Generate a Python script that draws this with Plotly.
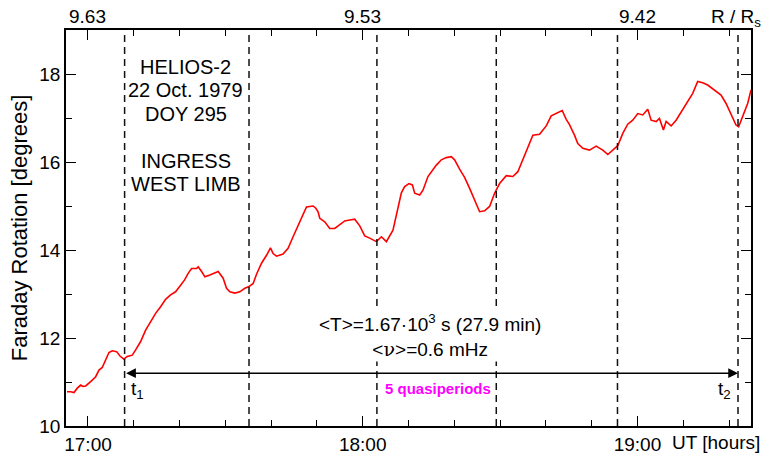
import plotly.graph_objects as go

# ---- data (minutes after 17:00 UT, Faraday rotation in degrees) ----
minutes = [-4.58, -3.77, -3.05, -2.33, -1.59, -1.09, -0.50, 0.0, 0.59, 1.68, 2.40, 3.12, 3.86, 4.58,
           5.30, 6.26, 6.98, 7.85, 8.57, 9.67, 10.41, 11.50, 12.59, 13.68, 14.77, 15.86, 16.95,
           18.04, 19.13, 20.23, 21.10, 21.88, 22.63, 23.72, 24.07, 24.81, 25.53, 26.62, 27.71,
           28.43, 29.52, 30.26, 30.98, 32.07, 33.16, 34.25, 35.19, 36.07, 36.81, 37.90, 38.99,
           39.86, 40.43, 41.17, 42.61, 43.70, 44.79, 46.25, 46.97, 47.72, 49.16, 49.75, 50.25,
           50.62, 51.71, 52.80, 53.89, 54.98, 56.07, 57.16, 58.25, 59.35, 60.44, 61.53, 62.99,
           64.08, 65.17, 66.61, 67.70, 68.44, 69.16, 70.10, 70.84, 71.35, 72.44, 73.16, 74.25,
           74.99, 76.08, 77.17, 78.26, 79.35, 80.07, 81.16, 82.25, 83.35, 84.44, 85.53, 86.62,
           87.71, 88.80, 89.89, 91.35, 92.79, 93.88, 94.98, 96.07, 97.16, 98.62, 100.08, 101.17,
           102.26, 103.57, 104.44, 105.16, 106.25, 106.97, 108.07, 109.53, 110.99, 112.43,
           113.53, 114.62, 115.70, 116.80, 117.88, 118.97, 120.07, 121.16, 122.25, 122.99,
           124.08, 124.80, 125.67, 126.26, 127.35, 128.44, 129.53, 130.62, 132.07, 133.16,
           134.25, 135.34, 136.80, 138.26, 139.35, 140.44, 141.53, 142.10, 142.97, 144.07, 144.81]
rotation = [10.78, 10.78, 10.76, 10.86, 10.93, 10.90, 10.91, 10.95, 11.01, 11.12, 11.27, 11.33, 11.50, 11.67,
            11.71, 11.69, 11.59, 11.52, 11.58, 11.61, 11.73, 11.92, 12.18, 12.37, 12.56, 12.71, 12.88,
            12.98, 13.05, 13.20, 13.32, 13.47, 13.58, 13.58, 13.62, 13.51, 13.39, 13.43, 13.47,
            13.51, 13.36, 13.13, 13.05, 13.02, 13.05, 13.13, 13.17, 13.24, 13.45, 13.70, 13.88,
            14.05, 13.92, 13.86, 13.91, 14.04, 14.30, 14.62, 14.80, 14.98, 15.00, 14.95, 14.87,
            14.72, 14.64, 14.49, 14.49, 14.57, 14.66, 14.68, 14.70, 14.55, 14.32, 14.27, 14.19,
            14.30, 14.19, 14.45, 14.95, 15.30, 15.44, 15.51, 15.48, 15.29, 15.25, 15.36, 15.67,
            15.78, 15.93, 16.05, 16.10, 16.12, 16.05, 15.84, 15.65, 15.40, 15.14, 14.87, 14.89,
            14.99, 15.29, 15.51, 15.69, 15.67, 15.78, 16.05, 16.33, 16.61, 16.63, 16.82, 17.05,
            17.10, 17.17, 16.97, 16.85, 16.61, 16.42, 16.31, 16.27, 16.36, 16.27,
            16.17, 16.27, 16.37, 16.65, 16.86, 16.95, 17.10, 17.07, 17.20, 16.95,
            16.92, 16.99, 16.73, 16.92, 16.82, 16.95, 17.14, 17.30, 17.56, 17.83,
            17.80, 17.75, 17.64, 17.52, 17.33, 17.10, 16.84, 16.80, 17.03, 17.33, 17.64]

# quasiperiod boundaries (minutes after 17:00)
period_marks = [8.0, 35.17, 63.1, 89.17, 115.64, 141.96]

# tick labels
bottom_tick_vals = [0, 60, 120]
bottom_tick_text = ["17:00", "18:00", "19:00"]
top_tick_text = ["9.63", "9.53", "9.42"]
y_tick_vals = [10, 12, 14, 16, 18]

info_lines = ["HELIOS-2", "22 Oct. 1979", "DOY 295", "", "INGRESS", "WEST LIMB"]

FONT = "Liberation Sans, Arial, sans-serif"

fig = go.Figure()
fig.add_trace(go.Scatter(x=minutes, y=rotation, mode="lines",
                         line=dict(color="#ff0000", width=1.6), showlegend=False,
                         hoverinfo="skip"))

for m in period_marks:
    fig.add_shape(type="line", x0=m, x1=m, y0=0, y1=1, xref="x", yref="paper",
                  line=dict(color="#111111", width=1.5, dash="7px,5px"))

axis_common = dict(showline=True, linecolor="black", linewidth=1.5, mirror="allticks",
                   ticks="inside", tickcolor="black", tickwidth=1.3, ticklen=10,
                   showgrid=False, zeroline=False, automargin=False,
                   tickfont=dict(family=FONT, size=19, color="black"))

fig.update_xaxes(range=[-4.8, 144.8], tickmode="array", tickvals=bottom_tick_vals,
                 ticktext=bottom_tick_text,
                 minor=dict(dtick=10, tick0=0, ticks="inside", ticklen=6, tickcolor="black",
                            tickwidth=1.3, showgrid=False),
                 **axis_common)
fig.update_yaxes(range=[10, 19], tickmode="array", tickvals=y_tick_vals,
                 minor=dict(dtick=1, tick0=10, ticks="inside", ticklen=6, tickcolor="black",
                            tickwidth=1.3, showgrid=False),
                 title=dict(text="Faraday Rotation [degrees]", standoff=6,
                            font=dict(family=FONT, size=22, color="black")),
                 **axis_common)

# top axis labels (R / Rs)
for v, t in zip(bottom_tick_vals, top_tick_text):
    fig.add_annotation(x=v, y=1, xref="x", yref="paper", text=t, showarrow=False,
                       yanchor="bottom", yshift=1, font=dict(family=FONT, size=19, color="black"))
fig.add_annotation(x=1, y=1, xref="paper", yref="paper", text="R / R<sub>s</sub>",
                   showarrow=False, xanchor="right", yanchor="bottom", xshift=12, yshift=-2,
                   font=dict(family=FONT, size=19, color="black"))
fig.add_annotation(x=1, y=0, xref="paper", yref="paper", text="UT [hours]",
                   showarrow=False, xanchor="right", yanchor="top", xshift=11, yshift=-4,
                   font=dict(family=FONT, size=19, color="black"))

# info block, one line at a time
line_top = 18.16
line_step = 0.534
for i, txt in enumerate(info_lines):
    if txt:
        fig.add_annotation(x=21.4, y=line_top - i * line_step, xref="x", yref="y", text=txt,
                           showarrow=False, font=dict(family=FONT, size=20, color="black"))

# period text
fig.add_annotation(x=74.6, y=12.05, xref="x", yref="y",
                   text="&lt;T&gt;=1.67·10<sup>3</sup> s (27.9 min)<br>"
                        "&lt;<span style='font-family:DejaVu Serif, serif'>ν</span>&gt;=0.6 mHz",
                   showarrow=False, align="center", bgcolor="white",
                   font=dict(family=FONT, size=19, color="black"))

# double arrow between t1 and t2
arrow_y = 11.2
fig.add_annotation(x=period_marks[-1], y=arrow_y, ax=period_marks[0], ay=arrow_y,
                   xref="x", yref="y", axref="x", ayref="y", text="",
                   showarrow=True, arrowside="end+start", arrowhead=2, arrowsize=1.3,
                   arrowwidth=1.5, arrowcolor="black")

fig.add_annotation(x=period_marks[0], y=10.82, xref="x", yref="y", text="t<sub>1</sub>",
                   showarrow=False, xanchor="left", xshift=4,
                   font=dict(family=FONT, size=19, color="black"))
fig.add_annotation(x=period_marks[-1], y=10.82, xref="x", yref="y", text="t<sub>2</sub>",
                   showarrow=False, xanchor="right", xshift=-5,
                   font=dict(family=FONT, size=19, color="black"))
fig.add_annotation(x=76.4, y=10.86, xref="x", yref="y", text="<b>5 quasiperiods</b>",
                   showarrow=False, font=dict(family=FONT, size=15, color="#ff00ff"))

fig.update_layout(width=764, height=457, margin=dict(l=66, r=13, t=30, b=31),
                  plot_bgcolor="white", paper_bgcolor="white",
                  font=dict(family=FONT, color="black"), showlegend=False)

# remove the default page margin so the figure fills the window exactly
fig.write_html("out.html", config={"displayModeBar": False},
               post_script="document.body.style.margin='0';document.body.style.overflow='hidden';")
